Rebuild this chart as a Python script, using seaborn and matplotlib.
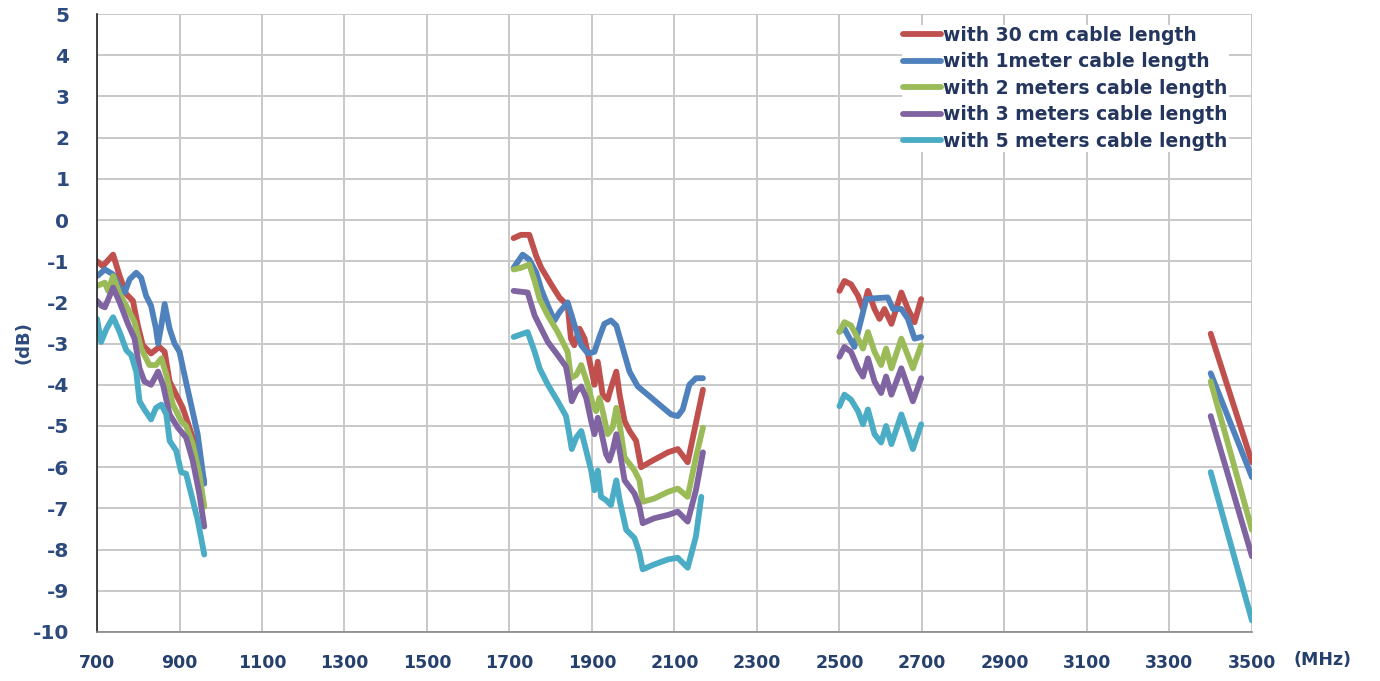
import numpy as np
import pandas as pd
import matplotlib
matplotlib.use('Agg')
import matplotlib.pyplot as plt
import seaborn as sns

# series names and colours (Excel 2007 palette)
series_names = ['with 30 cm cable length', 'with 1meter cable length',
                'with 2 meters cable length', 'with 3 meters cable length',
                'with 5 meters cable length']
colors = ['#C0504D', '#4F81BD', '#9BBB59', '#8064A2', '#4BACC6']

x_ticks = list(range(700, 3501, 200))
y_ticks = list(range(-10, 6))

# 30 cm
cm30_mhz = [700, 714, 739, 755, 771, 787, 799, 811, 831, 851, 864, 876, 892, 908, 924, 940, 960,
            1710, 1728, 1748, 1765, 1777, 1801, 1821, 1841, 1849, 1857, 1870, 1882, 1898, 1906, 1914,
            1926, 1938, 1946, 1959, 1967, 1979, 1991, 2007, 2019, 2047, 2084, 2108, 2132, 2148, 2169,
            2500, 2512, 2528, 2545, 2557, 2569, 2585, 2597, 2609, 2626, 2650, 2666, 2682, 2698,
            3400, 3500]
cm30_db = [-1.0, -1.12, -0.84, -1.36, -1.8, -1.96, -2.56, -3.04, -3.24, -3.08, -3.2, -3.92, -4.24, -4.56, -5.04, -5.52, -6.35,
           -0.44, -0.36, -0.36, -0.88, -1.16, -1.56, -1.88, -2.08, -2.88, -3.04, -2.64, -2.88, -3.6, -4.0, -3.44,
           -4.24, -4.36, -4.08, -3.68, -4.24, -4.88, -5.12, -5.36, -6.0, -5.84, -5.64, -5.56, -5.88, -5.12, -4.12,
           -1.72, -1.48, -1.56, -1.84, -2.16, -1.72, -2.16, -2.4, -2.16, -2.52, -1.76, -2.16, -2.48, -1.92,
           -2.76, -5.88]

# 1 meter
m1_mhz = [702, 719, 739, 755, 767, 779, 795, 807, 819, 831, 843, 848, 856, 864, 876, 888, 900, 912, 928, 944, 960,
          1710, 1732, 1748, 1765, 1777, 1793, 1809, 1821, 1841, 1858, 1874, 1890, 1906, 1918, 1930, 1946, 1959,
          1975, 1991, 2011, 2035, 2068, 2092, 2108, 2120, 2136, 2152, 2169,
          2500, 2512, 2536, 2553, 2565, 2585, 2617, 2630, 2650, 2666, 2682, 2698,
          3400, 3500]
m1_db = [-1.35, -1.2, -1.32, -1.64, -1.76, -1.44, -1.28, -1.4, -1.84, -2.08, -2.64, -3.0, -2.56, -2.04, -2.64, -3.0, -3.2, -3.76, -4.48, -5.2, -6.4,
         -1.16, -0.84, -0.96, -1.28, -1.68, -2.08, -2.44, -2.24, -2.0, -2.56, -3.04, -3.24, -3.2, -2.84, -2.52, -2.44, -2.56,
         -3.12, -3.68, -4.04, -4.24, -4.52, -4.72, -4.76, -4.6, -4.0, -3.84, -3.84,
         -2.7, -2.64, -3.08, -2.4, -1.92, -1.9, -1.88, -2.16, -2.16, -2.4, -2.88, -2.84,
         -3.72, -6.24]

# 2 meters
m2_mhz = [700, 719, 727, 739, 755, 775, 791, 807, 827, 843, 856, 868, 884, 904, 916, 932, 948, 960,
          1710, 1728, 1748, 1761, 1773, 1793, 1817, 1841, 1849, 1862, 1874, 1890, 1902, 1910, 1918, 1926,
          1938, 1950, 1959, 1967, 1979, 2003, 2015, 2023, 2051, 2084, 2108, 2132, 2152, 2169,
          2500, 2512, 2528, 2545, 2557, 2569, 2585, 2601, 2613, 2626, 2650, 2678, 2698,
          3400, 3500]
m2_db = [-1.6, -1.52, -1.72, -1.36, -1.8, -2.16, -2.48, -3.12, -3.52, -3.52, -3.36, -3.76, -4.48, -4.88, -5.0, -5.44, -6.16, -6.96,
         -1.2, -1.16, -1.08, -1.48, -1.92, -2.32, -2.72, -3.2, -3.84, -3.76, -3.52, -4.0, -4.48, -4.64, -4.32, -4.64,
         -5.2, -5.04, -4.56, -4.96, -5.76, -6.08, -6.32, -6.84, -6.76, -6.6, -6.52, -6.72, -5.76, -5.04,
         -2.72, -2.48, -2.56, -2.88, -3.12, -2.72, -3.2, -3.52, -3.12, -3.6, -2.88, -3.6, -3.04,
         -3.92, -7.52]

# 3 meters
m3_mhz = [700, 710, 719, 739, 755, 775, 791, 803, 815, 831, 848, 860, 876, 896, 916, 932, 948, 960,
          1710, 1744, 1761, 1777, 1793, 1817, 1837, 1845, 1851, 1862, 1874, 1886, 1898, 1906, 1914, 1922,
          1934, 1942, 1950, 1959, 1967, 1979, 2003, 2015, 2023, 2051, 2084, 2108, 2132, 2152, 2169,
          2500, 2512, 2528, 2545, 2557, 2569, 2585, 2601, 2613, 2626, 2650, 2678, 2698,
          3400, 3500]
m3_db = [-1.96, -2.08, -2.12, -1.64, -2.0, -2.52, -2.88, -3.6, -3.92, -4.0, -3.68, -4.0, -4.72, -5.04, -5.28, -5.84, -6.64, -7.44,
         -1.72, -1.76, -2.32, -2.64, -2.96, -3.28, -3.56, -4.0, -4.4, -4.16, -4.04, -4.32, -4.88, -5.2, -4.8, -5.12,
         -5.68, -5.84, -5.6, -5.2, -5.6, -6.32, -6.64, -6.96, -7.36, -7.24, -7.16, -7.08, -7.32, -6.56, -5.64,
         -3.32, -3.08, -3.2, -3.6, -3.8, -3.36, -3.92, -4.2, -3.8, -4.24, -3.6, -4.4, -3.84,
         -4.76, -8.16]

# 5 meters
m5_mhz = [700, 710, 723, 739, 755, 771, 783, 795, 803, 815, 831, 843, 856, 868, 876, 892, 904, 916, 928, 944, 960,
          1710, 1744, 1761, 1773, 1793, 1817, 1837, 1845, 1851, 1862, 1874, 1886, 1898, 1906, 1914, 1922,
          1934, 1946, 1959, 1967, 1983, 2003, 2015, 2023, 2051, 2084, 2108, 2132, 2152, 2165,
          2500, 2512, 2528, 2545, 2557, 2569, 2585, 2601, 2613, 2626, 2650, 2678, 2698,
          3400, 3500]
m5_db = [-2.4, -2.96, -2.64, -2.36, -2.72, -3.16, -3.28, -3.68, -4.4, -4.6, -4.84, -4.56, -4.48, -4.72, -5.36, -5.6, -6.12, -6.16, -6.64, -7.28, -8.12,
         -2.84, -2.72, -3.2, -3.6, -4.0, -4.4, -4.76, -5.2, -5.56, -5.28, -5.12, -5.6, -6.08, -6.56, -6.08, -6.72,
         -6.8, -6.92, -6.32, -6.8, -7.52, -7.72, -8.08, -8.48, -8.36, -8.24, -8.2, -8.44, -7.68, -6.72,
         -4.52, -4.24, -4.36, -4.64, -4.96, -4.6, -5.2, -5.4, -5.0, -5.44, -4.72, -5.56, -4.96,
         -6.12, -9.72]

all_mhz = [cm30_mhz, m1_mhz, m2_mhz, m3_mhz, m5_mhz]
all_db = [cm30_db, m1_db, m2_db, m3_db, m5_db]

frames = []
for name, f, d in zip(series_names, all_mhz, all_db):
    frames.append(pd.DataFrame({'MHz': f, 'dB': d, 'cable': name}))
df = pd.concat(frames, ignore_index=True)
# each frequency band is drawn as its own line piece
df['band'] = pd.cut(df['MHz'], [0, 1300, 2300, 3000, 4000], labels=['b1', 'b2', 'b3', 'b4']).astype(str)

sns.set_style('white')
plt.rcParams['font.family'] = ['DejaVu Sans']
plt.rcParams['axes.unicode_minus'] = False

navy = '#2D4A7E'

fig, ax = plt.subplots(figsize=(13.8, 6.81), dpi=100)
fig.subplots_adjust(left=0.0703, right=0.9072, bottom=0.072, top=0.9794)

sns.lineplot(data=df, x='MHz', y='dB', hue='cable', units='band', estimator=None,
             hue_order=series_names, palette=colors, lw=4.2, sort=False, ax=ax)
for line in ax.lines:
    line.set_solid_joinstyle('round')
    line.set_solid_capstyle('round')

ax.set_xlim(700, 3500)
ax.set_ylim(-10, 5)
ax.set_xticks(x_ticks)
ax.set_yticks(y_ticks)
ax.grid(True, color='#c8c8c8', lw=1.4)
ax.set_axisbelow(True)

for s in ['top', 'right']:
    ax.spines[s].set_visible(False)
ax.spines['left'].set_color('#222222')
ax.spines['left'].set_linewidth(1.2)
ax.spines['bottom'].set_color('#888888')
ax.spines['bottom'].set_linewidth(1.2)

ax.tick_params(axis='y', direction='in', length=5, width=1, color='#222222', pad=20)
ax.tick_params(axis='x', length=0, pad=16)
for t in ax.get_yticklabels():
    t.set_fontsize(14.5)
    t.set_fontweight('bold')
    t.set_color(navy)
for t in ax.get_xticklabels():
    t.set_fontsize(12.5)
    t.set_fontweight('bold')
    t.set_color('#26406E')

ax.set_ylabel('(dB)', fontsize=13, fontweight='bold', color=navy)
ax.yaxis.set_label_coords(-0.056, 0.469)
ax.set_xlabel('(MHz)', fontsize=12.5, fontweight='bold', color='#26406E')
ax.xaxis.set_label_coords(1.061, -0.03)

h, l = ax.get_legend_handles_labels()
leg = ax.legend(h, l, loc='upper right', bbox_to_anchor=(0.988, 0.998), frameon=True,
                facecolor='white', edgecolor='none', framealpha=1, fancybox=False,
                prop={'size': 13.5, 'weight': 'bold'}, labelcolor='#24365E',
                handlelength=2.05, handletextpad=0.1, labelspacing=0.4, borderpad=0.05)
for line in leg.get_lines():
    line.set_linewidth(4.2)

fig.savefig('out.png', dpi=100)
